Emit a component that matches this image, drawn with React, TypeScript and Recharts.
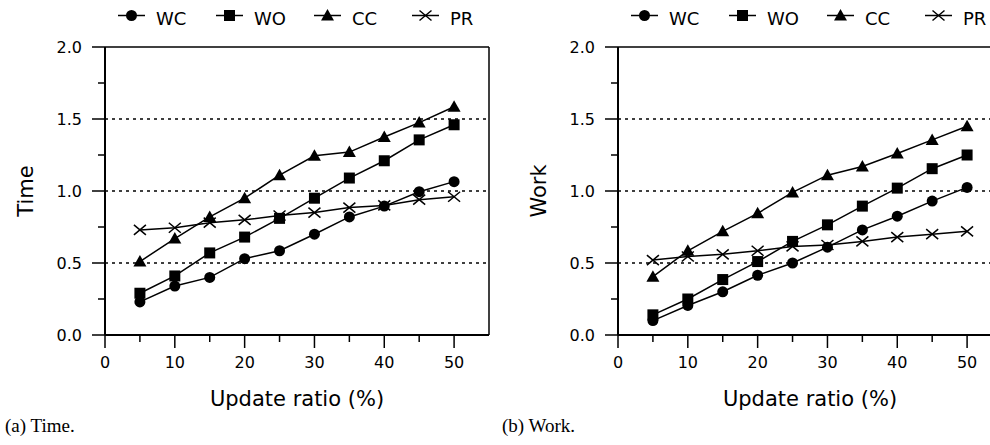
import React from 'react';
import { LineChart, Line, XAxis, YAxis, ReferenceLine, Legend, Label } from 'recharts';

// ---- data ----
const ratios = [5, 10, 15, 20, 25, 30, 35, 40, 45, 50];
const seriesNames = ['WC', 'WO', 'CC', 'PR'];

const timeWC = [0.23, 0.34, 0.4, 0.53, 0.585, 0.7, 0.82, 0.895, 0.995, 1.065];
const timeWO = [0.29, 0.41, 0.57, 0.68, 0.81, 0.95, 1.09, 1.21, 1.355, 1.46];
const timeCC = [0.51, 0.67, 0.82, 0.95, 1.11, 1.245, 1.27, 1.375, 1.475, 1.585];
const timePR = [0.73, 0.745, 0.78, 0.8, 0.83, 0.85, 0.885, 0.9, 0.94, 0.96];

const workWC = [0.1, 0.205, 0.3, 0.415, 0.5, 0.61, 0.73, 0.825, 0.93, 1.025];
const workWO = [0.14, 0.25, 0.385, 0.51, 0.65, 0.765, 0.895, 1.02, 1.155, 1.25];
const workCC = [0.405, 0.585, 0.72, 0.845, 0.99, 1.11, 1.17, 1.26, 1.355, 1.45];
const workPR = [0.52, 0.545, 0.56, 0.585, 0.615, 0.625, 0.65, 0.68, 0.7, 0.72];

const xTicks = [0, 5, 10, 15, 20, 25, 30, 35, 40, 45, 50];
const yTicks = [0, 0.25, 0.5, 0.75, 1, 1.25, 1.5, 1.75, 2];
const gridValues = [0.5, 1, 1.5];

const xTitle = 'Update ratio (%)';
const timeTitle = 'Time';
const workTitle = 'Work';
const captionA = '(a) Time.';
const captionB = '(b) Work.';

const timeRows = ratios.map((x, i) => ({ x, WC: timeWC[i], WO: timeWO[i], CC: timeCC[i], PR: timePR[i] }));
const workRows = ratios.map((x, i) => ({ x, WC: workWC[i], WO: workWO[i], CC: workCC[i], PR: workPR[i] }));

// ---- styles ----
const SANS = "'DejaVu Sans', sans-serif";
const SERIF = "'Liberation Serif', serif";
const shapes: Record<string, string> = { WC: 'circle', WO: 'square', CC: 'triangle', PR: 'cross' };

function Marker({ shape, cx, cy }: { shape: string; cx: number; cy: number }) {
  if (cx == null || cy == null || isNaN(cx) || isNaN(cy)) return null;
  if (shape === 'circle') return <circle cx={cx} cy={cy} r={5.5} fill="#000" />;
  if (shape === 'square') return <rect x={cx - 5.5} y={cy - 5.5} width={11} height={11} fill="#000" />;
  if (shape === 'triangle')
    return <polygon points={`${cx},${cy - 6.5} ${cx + 6.5},${cy + 5} ${cx - 6.5},${cy + 5}`} fill="#000" />;
  return (
    <path
      d={`M${cx - 6},${cy - 5} L${cx + 6},${cy + 5} M${cx + 6},${cy - 5} L${cx - 6},${cy + 5}`}
      stroke="#000"
      strokeWidth={1.5}
      fill="none"
    />
  );
}

const XTick = (props: any) => {
  const { x, y, payload } = props;
  const v = payload.value;
  const major = v % 10 === 0;
  return (
    <g>
      <line x1={x} x2={x} y1={y} y2={y + (major ? 13 : 7)} stroke="#000" strokeWidth={1.5} />
      {major && (
        <text x={x} y={y + 33} textAnchor="middle" fontSize={16} fontFamily={SANS} fill="#000">
          {v}
        </text>
      )}
    </g>
  );
};

const YTick = (props: any) => {
  const { x, y, payload } = props;
  const v = payload.value;
  const major = Math.abs(v * 2 - Math.round(v * 2)) < 1e-6;
  return (
    <g>
      <line x1={x} x2={x - (major ? 13 : 7)} y1={y} y2={y} stroke="#000" strokeWidth={1.5} />
      {major && (
        <text x={x - 23} y={y + 6} textAnchor="end" fontSize={16} fontFamily={SANS} fill="#000">
          {v.toFixed(1)}
        </text>
      )}
    </g>
  );
};

const LegendContent = () => (
  <svg width={513} height={30} style={{ display: 'block', overflow: 'visible' }}>
    {seriesNames.map((name, i) => {
      const x0 = 118 + i * 98;
      return (
        <g key={name}>
          <line x1={x0} x2={x0 + 27} y1={15.5} y2={15.5} stroke="#000" strokeWidth={1.5} />
          <Marker shape={shapes[name]} cx={x0 + 13.5} cy={15.5} />
          <text x={x0 + 38} y={25} fontSize={18} fontFamily={SANS} fill="#000">
            {name}
          </text>
        </g>
      );
    })}
  </svg>
);

function Panel({ rows, yTitle }: { rows: any[]; yTitle: string }) {
  return (
    <LineChart width={513} height={445} data={rows} margin={{ top: 47, right: 24, bottom: 0, left: 0 }}>
      <Legend
        content={<LegendContent />}
        verticalAlign="middle"
        align="center"
        layout="horizontal"
        wrapperStyle={{ top: 0, left: 0, width: 513, height: 30 }}
      />
      <XAxis
        type="number"
        dataKey="x"
        domain={[0, 55]}
        ticks={xTicks}
        interval={0}
        height={110}
        tickSize={0}
        tickMargin={0}
        tickLine={false}
        tick={<XTick />}
        axisLine={{ stroke: '#000', strokeWidth: 2 }}
        allowDataOverflow
      >
        <Label
          content={(p: any) => {
            const vb = p.viewBox || { x: 105, y: 335, width: 384 };
            return (
              <text x={vb.x + vb.width / 2} y={vb.y + 71} textAnchor="middle" fontSize={21} fontFamily={SANS} fill="#000">
                {xTitle}
              </text>
            );
          }}
        />
      </XAxis>
      <YAxis
        type="number"
        domain={[0, 2]}
        ticks={yTicks}
        interval={0}
        width={105}
        tickSize={0}
        tickMargin={0}
        tickLine={false}
        tick={<YTick />}
        axisLine={{ stroke: '#000', strokeWidth: 2 }}
        allowDataOverflow
      >
        <Label
          content={(p: any) => {
            const vb = p.viewBox || { x: 0, y: 47, height: 288 };
            const cx = vb.x + 33;
            const cy = vb.y + vb.height / 2;
            return (
              <text
                x={cx}
                y={cy}
                transform={`rotate(-90, ${cx}, ${cy})`}
                textAnchor="middle"
                fontSize={21}
                fontFamily={SANS}
                fill="#000"
              >
                {yTitle}
              </text>
            );
          }}
        />
      </YAxis>
      {gridValues.map((g) => (
        <ReferenceLine key={g} y={g} stroke="#000" strokeWidth={1.5} strokeDasharray="3 4" />
      ))}
      <ReferenceLine y={2} stroke="#000" strokeWidth={1.5} />
      <ReferenceLine x={55} stroke="#000" strokeWidth={1.5} />
      {seriesNames.map((name) => (
        <Line
          key={name}
          type="linear"
          dataKey={name}
          stroke="#000"
          strokeWidth={1.5}
          isAnimationActive={false}
          dot={(p: any) => <Marker key={`${name}-${p.index}`} shape={shapes[name]} cx={p.cx} cy={p.cy} />}
          activeDot={false}
          legendType="none"
        />
      ))}
    </LineChart>
  );
}

export default function App() {
  return (
    <div
      style={{
        position: 'absolute',
        left: 0,
        top: 0,
        width: 990,
        height: 445,
        overflow: 'hidden',
        background: '#fff',
      }}
    >
      <div style={{ position: 'absolute', left: 0, top: 0 }}>
        <Panel rows={timeRows} yTitle={timeTitle} />
      </div>
      <div style={{ position: 'absolute', left: 513, top: 0 }}>
        <Panel rows={workRows} yTitle={workTitle} />
      </div>
      <svg width={990} height={445} style={{ position: 'absolute', left: 0, top: 0, pointerEvents: 'none' }}>
        <text x={5} y={432} fontSize={19} fontFamily={SERIF} fill="#000">
          {captionA}
        </text>
        <text x={502} y={432} fontSize={19} fontFamily={SERIF} fill="#000">
          {captionB}
        </text>
      </svg>
    </div>
  );
}
